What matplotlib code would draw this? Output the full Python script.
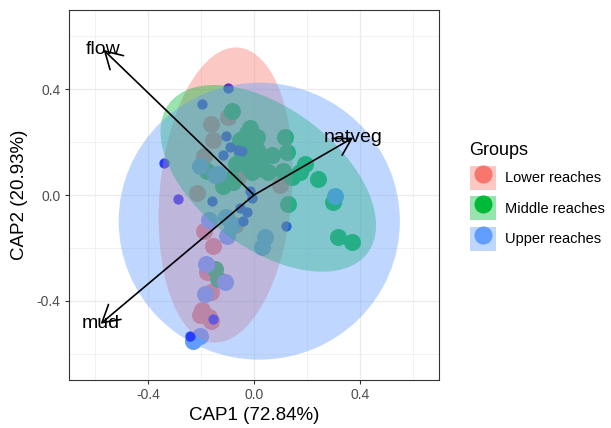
import matplotlib
matplotlib.use("Agg")
import matplotlib.pyplot as plt
from matplotlib.patches import Ellipse, Patch
from matplotlib.lines import Line2D
from matplotlib.legend_handler import HandlerTuple

plt.rcParams["font.family"] = ["Liberation Sans", "DejaVu Sans"]

# group colours (ggplot hue palette)
groups = ["Lower reaches", "Middle reaches", "Upper reaches"]
colors = ["#F8766D", "#00BA38", "#619CFF"]

# site scores
lower_x = [-0.164, -0.097, -0.154, -0.191, -0.217, 0.099, -0.071, -0.062,
           -0.191, -0.154, -0.176, -0.161, -0.195, -0.169, -0.206, -0.161]
lower_y = [0.270, 0.296, 0.210, 0.149, 0.006, 0.037, -0.114, 0.067,
           -0.137, -0.193, -0.291, -0.367, -0.435, -0.461, -0.453, -0.476]

middle_x = [-0.082, -0.025, -0.014, 0.012, -0.052, -0.025, 0.012, -0.044, -0.006,
            0.118, 0.069, 0.126, 0.194, 0.175, 0.243, 0.035, -0.006, -0.176,
            -0.116, -0.089, 0.129, 0.299, 0.318, 0.371, -0.146, -0.135, 0.054,
            0.111, 0.145, -0.067, 0.024, -0.014, -0.078]
middle_y = [0.319, 0.236, 0.255, 0.221, 0.210, 0.183, 0.172, 0.146, 0.146,
            0.221, 0.153, 0.161, 0.116, 0.086, 0.059, 0.097, 0.086, 0.089,
            0.033, 0.059, -0.035, -0.027, -0.159, -0.178, -0.280, -0.318, 0.086,
            0.089, 0.070, 0.116, 0.134, 0.097, 0.048]

upper_x = [0.307, 0.043, 0.031, -0.180, -0.108, -0.184, -0.206, -0.229,
           -0.135, -0.203, -0.169, -0.105, -0.082, -0.101, -0.146]
upper_y = [-0.005, -0.159, -0.197, -0.261, -0.329, -0.374, -0.532, -0.554,
           0.078, 0.108, -0.095, -0.084, -0.114, -0.156, 0.074]

# smaller dark blue points
small_x = [-0.097, -0.195, -0.342, -0.105, -0.089, -0.059, -0.044, -0.116, -0.286,
           -0.157, -0.014, -0.006, -0.052, -0.025, -0.040, 0.122, -0.154, -0.244]
small_y = [0.406, 0.345, 0.123, 0.225, 0.180, 0.172, 0.165, 0.150, -0.016,
           -0.024, 0.014, -0.012, -0.050, -0.065, -0.099, -0.118, -0.468, -0.532]

# 95% ellipses: centre x, centre y, width, height, angle
ell_cx = [-0.107, 0.054, 0.020]
ell_cy = [0.000, 0.063, -0.099]
ell_w = [0.50, 0.94, 1.064]
ell_h = [1.12, 0.53, 1.048]
ell_ang = [-5, -37, 0]

# environmental vectors
vec_names = ["flow", "natveg", "mud"]
vec_x = [-0.569, 0.375, -0.580]
vec_y = [0.549, 0.217, -0.487]

fig = plt.figure(figsize=(6.11, 4.28), dpi=100)
ax = fig.add_axes([0.1129, 0.1121, 0.6056, 0.8645])

# points first, then translucent ellipses on top (like the ggplot layer order)
for xs, ys, c in zip([lower_x, middle_x, upper_x], [lower_y, middle_y, upper_y], colors):
    ax.scatter(xs, ys, s=150, color=c, linewidths=0, zorder=2)
ax.scatter(small_x, small_y, s=55, color="#0000FF", linewidths=0, zorder=2)

for i in range(3):
    ax.add_patch(Ellipse((ell_cx[i], ell_cy[i]), ell_w[i], ell_h[i], angle=ell_ang[i],
                         facecolor=colors[i], alpha=0.4, edgecolor="none", zorder=3))

for name, vx, vy in zip(vec_names, vec_x, vec_y):
    ax.annotate("", xy=(vx, vy), xytext=(0, 0), zorder=4,
                arrowprops=dict(arrowstyle="->,head_length=0.6,head_width=0.35",
                                lw=1.2, color="black", shrinkA=0, shrinkB=0,
                                mutation_scale=20))
    ax.text(vx, vy, name, ha="center", va="center", fontsize=14, zorder=5)

ax.set_xlim(-0.7, 0.7)
ax.set_ylim(-0.7, 0.7)
ax.set_xticks([-0.4, 0.0, 0.4])
ax.set_yticks([-0.4, 0.0, 0.4])
ax.set_xticks([-0.6, -0.2, 0.2, 0.6], minor=True)
ax.set_yticks([-0.6, -0.2, 0.2, 0.6], minor=True)
ax.set_xticklabels(["-0.4", "0.0", "0.4"])
ax.set_yticklabels(["-0.4", "0.0", "0.4"])
ax.tick_params(which="major", length=3, width=0.8, color="#333333",
               labelsize=10, labelcolor="#4D4D4D", pad=3)
ax.tick_params(which="minor", length=0)
ax.grid(which="major", color="#EBEBEB", lw=0.9, zorder=0)
ax.grid(which="minor", color="#EBEBEB", lw=0.5, zorder=0)
ax.set_axisbelow(True)
for sp in ax.spines.values():
    sp.set_color("#333333")
    sp.set_linewidth(0.8)

ax.set_xlabel("CAP1 (72.84%)", fontsize=13.5, labelpad=3)
ax.set_ylabel("CAP2 (20.93%)", fontsize=13.5, labelpad=6)

handles = [(Patch(facecolor=c, alpha=0.4, edgecolor="none"),
            Line2D([], [], marker="o", ls="none", color=c, markersize=12))
           for c in colors]
fig.legend(handles, groups, title="Groups", loc="upper left",
           bbox_to_anchor=(0.7565, 0.685), frameon=False, fontsize=10.5,
           title_fontsize=13, handlelength=1.85, handleheight=2.15,
           labelspacing=0.45, handletextpad=0.6, borderpad=0, alignment="left",
           handler_map={tuple: HandlerTuple(ndivide=1)})

fig.savefig("out.png", dpi=100)
